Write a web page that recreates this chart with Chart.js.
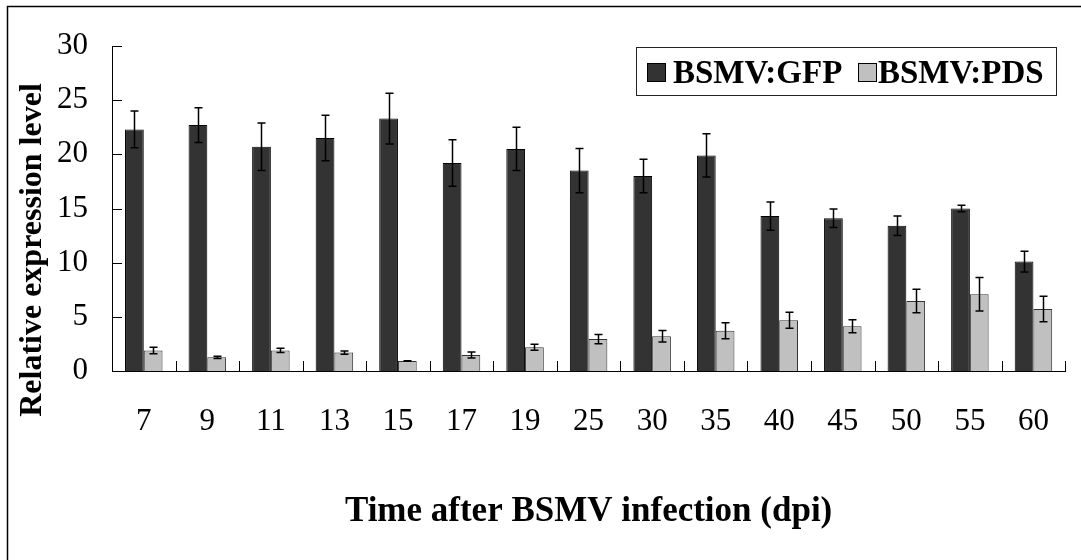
<!DOCTYPE html>
<html>
<head>
<meta charset="utf-8">
<script src="https://cdn.jsdelivr.net/npm/chart.js@4.4.0/dist/chart.umd.min.js"></script>
<style>
html,body{margin:0;padding:0;background:#fff;}
#wrap{width:1081px;height:560px;}
</style>
</head>
<body>
<div id="wrap"><canvas id="c" width="1081" height="560"></canvas></div>
<script>
// ---- data ----
const categories = ['7','9','11','13','15','17','19','25','30','35','40','45','50','55','60'];
const gfpValues = [22.3, 22.7, 20.7, 21.5, 23.3, 19.2, 20.5, 18.5, 18.0, 19.9, 14.3, 14.1, 13.4, 15.0, 10.1];
const gfpErrors = [1.7, 1.6, 2.2, 2.1, 2.35, 2.15, 2.0, 2.05, 1.55, 2.0, 1.3, 0.85, 0.9, 0.3, 0.95];
const pdsValues = [1.9, 1.26, 1.9, 1.7, 0.92, 1.48, 2.2, 2.95, 3.2, 3.72, 4.68, 4.12, 6.46, 7.08, 5.72];
const pdsErrors = [0.3, 0.1, 0.2, 0.15, 0.03, 0.28, 0.28, 0.43, 0.53, 0.74, 0.74, 0.6, 1.08, 1.55, 1.17];
const seriesNames = ['BSMV:GFP', 'BSMV:PDS'];
const yTitle = 'Relative expression level';
const xTitle = 'Time after BSMV infection (dpi)';

const SERIF = '"Liberation Serif", "Times New Roman", serif';

const bgPlugin = {
  id: 'bgFrame',
  beforeDraw(chart) {
    const ctx = chart.ctx;
    ctx.save();
    ctx.fillStyle = '#fff';
    ctx.fillRect(0, 0, chart.width, chart.height);
    ctx.strokeStyle = '#000';
    ctx.lineWidth = 1.5;
    ctx.beginPath();
    ctx.moveTo(7.5, chart.height);
    ctx.lineTo(7.5, 6.5);
    ctx.lineTo(chart.width, 6.5);
    ctx.stroke();
    ctx.restore();
  }
};

const ticksPlugin = {
  id: 'insideTicks',
  afterDatasetsDraw(chart) {
    const ctx = chart.ctx;
    const y = chart.scales.y, x = chart.scales.x;
    const area = chart.chartArea;
    ctx.save();
    ctx.strokeStyle = '#000';
    ctx.lineWidth = 1;
    ctx.beginPath();
    y.ticks.forEach((t, i) => {
      const py = Math.round(y.getPixelForTick(i)) + 0.5;
      ctx.moveTo(area.left, py);
      ctx.lineTo(area.left + 10, py);
    });
    const n = categories.length;
    const half = (x.getPixelForValue(1) - x.getPixelForValue(0)) / 2;
    for (let i = 1; i <= n; i++) {
      const px = Math.round(x.getPixelForValue(i - 1) + half) + 0.5;
      ctx.moveTo(px, area.bottom);
      ctx.lineTo(px, area.bottom - 10);
    }
    ctx.stroke();
    ctx.restore();
  }
};

const errorPlugin = {
  id: 'errorBars',
  afterDatasetsDraw(chart) {
    const ctx = chart.ctx;
    const yScale = chart.scales.y;
    const errs = [gfpErrors, pdsErrors];
    ctx.save();
    ctx.strokeStyle = '#000';
    ctx.lineWidth = 1.5;
    chart.data.datasets.forEach((ds, di) => {
      const meta = chart.getDatasetMeta(di);
      meta.data.forEach((bar, i) => {
        const v = ds.data[i], e = errs[di][i];
        const x = Math.round(bar.x) + 0.5;
        const yt = yScale.getPixelForValue(v + e);
        const yb = yScale.getPixelForValue(v - e);
        ctx.beginPath();
        ctx.moveTo(x, yt); ctx.lineTo(x, yb);
        ctx.moveTo(x - 4, yt); ctx.lineTo(x + 4, yt);
        ctx.moveTo(x - 4, yb); ctx.lineTo(x + 4, yb);
        ctx.stroke();
      });
    });
    ctx.restore();
  }
};

const titlesLegendPlugin = {
  id: 'titlesLegend',
  afterDraw(chart) {
    const ctx = chart.ctx;
    const area = chart.chartArea;
    ctx.save();
    ctx.fillStyle = '#000';
    // y title
    ctx.font = 'bold 32px ' + SERIF;
    ctx.textAlign = 'center';
    ctx.textBaseline = 'middle';
    ctx.translate(33, 250);
    ctx.rotate(-Math.PI / 2);
    ctx.fillText(yTitle, 0, 0);
    ctx.setTransform(1, 0, 0, 1, 0, 0);
    // x title
    ctx.font = 'bold 35px ' + SERIF;
    ctx.textAlign = 'center';
    ctx.textBaseline = 'alphabetic';
    ctx.fillText(xTitle, (area.left + area.right) / 2, 521);
    // legend
    const bx = 636, by = 47, bw = 420, bh = 48;
    ctx.fillStyle = '#fff';
    ctx.fillRect(bx, by, bw, bh);
    ctx.strokeStyle = '#222';
    ctx.lineWidth = 1;
    ctx.strokeRect(bx + 0.5, by + 0.5, bw, bh);
    const items = [{sx: 647, tx: 673}, {sx: 858, tx: 878}];
    ctx.font = 'bold 33px ' + SERIF;
    ctx.textAlign = 'left';
    ctx.textBaseline = 'alphabetic';
    chart.data.datasets.forEach((ds, i) => {
      const it = items[i];
      ctx.fillStyle = ds.backgroundColor;
      ctx.fillRect(it.sx, 63, 19, 19);
      ctx.strokeStyle = '#000';
      ctx.strokeRect(it.sx + 0.5, 63.5, 18, 18);
      ctx.fillStyle = '#000';
      ctx.fillText(ds.label, it.tx, 83);
    });
    ctx.restore();
  }
};

new Chart(document.getElementById('c'), {
  type: 'bar',
  data: {
    labels: categories,
    datasets: [
      { label: seriesNames[0], data: gfpValues, backgroundColor: '#333333', borderColor: '#000', borderWidth: 1 },
      { label: seriesNames[1], data: pdsValues, backgroundColor: '#c0c0c0', borderColor: '#333', borderWidth: 1 }
    ]
  },
  options: {
    responsive: false,
    animation: false,
    devicePixelRatio: 1,
    layout: { padding: { left: 0, top: 46, right: 2, bottom: 0 } },
    plugins: { legend: { display: false }, tooltip: { enabled: false } },
    datasets: { bar: { categoryPercentage: 0.59, barPercentage: 1.0 } },
    scales: {
      x: {
        grid: { display: false, drawTicks: false },
        border: { display: true, color: '#000', width: 1 },
        ticks: { color: '#000', font: { family: SERIF, size: 31 }, padding: 32, maxRotation: 0, autoSkip: false },
        afterFit(scale) { scale.height = 189; }
      },
      y: {
        min: 0, max: 30,
        grid: { display: false, drawTicks: false },
        border: { display: true, color: '#000', width: 1 },
        ticks: { stepSize: 5, color: '#000', font: { family: SERIF, size: 31 }, padding: 24 },
        afterFit(scale) { scale.width = 112; }
      }
    }
  },
  plugins: [bgPlugin, errorPlugin, ticksPlugin, titlesLegendPlugin]
});
</script>
</body>
</html>
